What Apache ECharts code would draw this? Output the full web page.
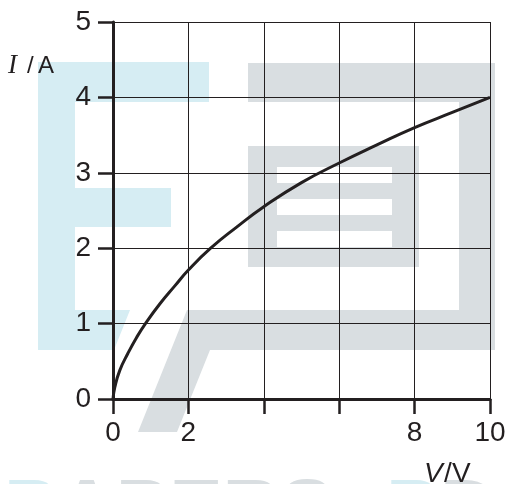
<!DOCTYPE html>
<html>
<head>
<meta charset="utf-8">
<style>
  html, body { margin: 0; padding: 0; background: #fff; }
  #chart { width: 509px; height: 484px; }
</style>
<script src="https://cdn.jsdelivr.net/npm/echarts@6/dist/echarts.min.js"></script>
</head>
<body>
<div id="chart"></div>
<script>
// values
var voltage = [0, 0.05, 0.18, 0.39, 0.63, 0.86, 1.24, 1.64, 2, 2.59, 3.28, 4, 5, 6, 7, 8, 9, 10]
var current = [0, 0.16, 0.38, 0.6, 0.82, 1.0, 1.26, 1.5, 1.71, 2.0, 2.28, 2.55, 2.87, 3.13, 3.37, 3.6, 3.8, 4.0]
var xLabelsShown = ['0', '2', '8', '10']   // the 4 and 6 ticks carry no label
var yLabels = ['0', '1', '2', '3', '4', '5']

var ink = '#231f20'
var font = '"Liberation Sans", Arial, sans-serif'
var serif = '"Liberation Serif", "Times New Roman", serif'
var wmBlue = '#d6edf3'
var wmGray = '#d9dee1'

var chart = echarts.init(document.getElementById('chart'))

// background watermark shapes (decoration only)
function box(x, y, w, h, color) {
  return { type: 'rect', z: -10, silent: true, shape: { x: x, y: y, width: w, height: h }, style: { fill: color } }
}
function poly(points, color) {
  return { type: 'polygon', z: -10, silent: true, shape: { points: points }, style: { fill: color } }
}
function word(x, y, str, color) {
  return {
    type: 'text', z: -10, silent: true, left: x, top: y,
    style: { text: str, fill: color, fontSize: 80, fontWeight: 'bold', fontFamily: font }
  }
}
function label(x, y, str, size, family, italic) {
  return {
    type: 'text', z: 5, left: x, top: y,
    style: { text: str, fill: ink, fontSize: size, fontFamily: family, fontStyle: italic ? 'italic' : 'normal' }
  }
}

var watermark = [
  // blue E
  box(38, 62, 171, 40, wmBlue),
  box(38, 62, 37, 288, wmBlue),
  box(38, 188, 133, 39, wmBlue),
  poly([[38, 310], [130, 310], [114, 350], [38, 350]], wmBlue),
  // grey frame
  box(248, 63, 247, 39, wmGray),
  box(459, 63, 36, 287, wmGray),
  poly([[187, 310], [495, 310], [495, 350], [210, 350], [177, 432], [138, 432]], wmGray),
  box(248, 146, 171, 121, wmGray),
  box(277, 167, 115, 16, '#fff'),
  box(277, 199, 115, 16, '#fff'),
  box(277, 231, 115, 16, '#fff'),
  // letters cut by the bottom edge
  word(4, 473, 'P', wmBlue),
  word(58, 473, 'APERS', wmGray),
  word(386, 473, 'P', wmBlue),
  word(440, 473, 'D', wmGray)
]

// axis titles
var titles = [
  label(8, 52, 'I', 27, serif, true),
  label(27, 54, '/', 24, font, false),
  label(38, 54, 'A', 24, font, false),
  label(424, 460, 'V', 28, font, true),
  label(444, 460, '/', 28, font, false),
  label(452, 460, 'V', 28, font, false)
]

chart.setOption({
  animation: false,
  backgroundColor: '#fff',
  grid: { left: 113, right: 19, top: 22, bottom: 85, containLabel: false },
  graphic: watermark.concat(titles),
  xAxis: {
    type: 'value',
    min: 0,
    max: 10,
    interval: 2,
    axisLine: { show: true, lineStyle: { color: ink, width: 3 } },
    axisTick: { show: true, length: 15, lineStyle: { color: ink, width: 2.5 } },
    axisLabel: {
      margin: 20,
      fontSize: 28,
      fontFamily: font,
      color: ink,
      formatter: function (val) {
        var s = String(val)
        return xLabelsShown.indexOf(s) > -1 ? s : ''
      }
    },
    splitLine: { show: true, lineStyle: { color: ink, width: 1 } }
  },
  yAxis: {
    type: 'value',
    min: 0,
    max: 5,
    interval: 1,
    axisLine: { show: true, lineStyle: { color: ink, width: 3 } },
    axisTick: { show: true, length: 15, lineStyle: { color: ink, width: 2.5 } },
    axisLabel: {
      margin: 22,
      fontSize: 28,
      fontFamily: font,
      color: ink,
      formatter: function (val) {
        return yLabels[Math.round(val)]
      }
    },
    splitLine: { show: true, lineStyle: { color: ink, width: 1 } }
  },
  series: [
    {
      type: 'line',
      data: voltage.map(function (v, i) { return [v, current[i]] }),
      smooth: 0.5,
      showSymbol: false,
      lineStyle: { color: ink, width: 3 },
      z: 3
    }
  ]
})
</script>
</body>
</html>
